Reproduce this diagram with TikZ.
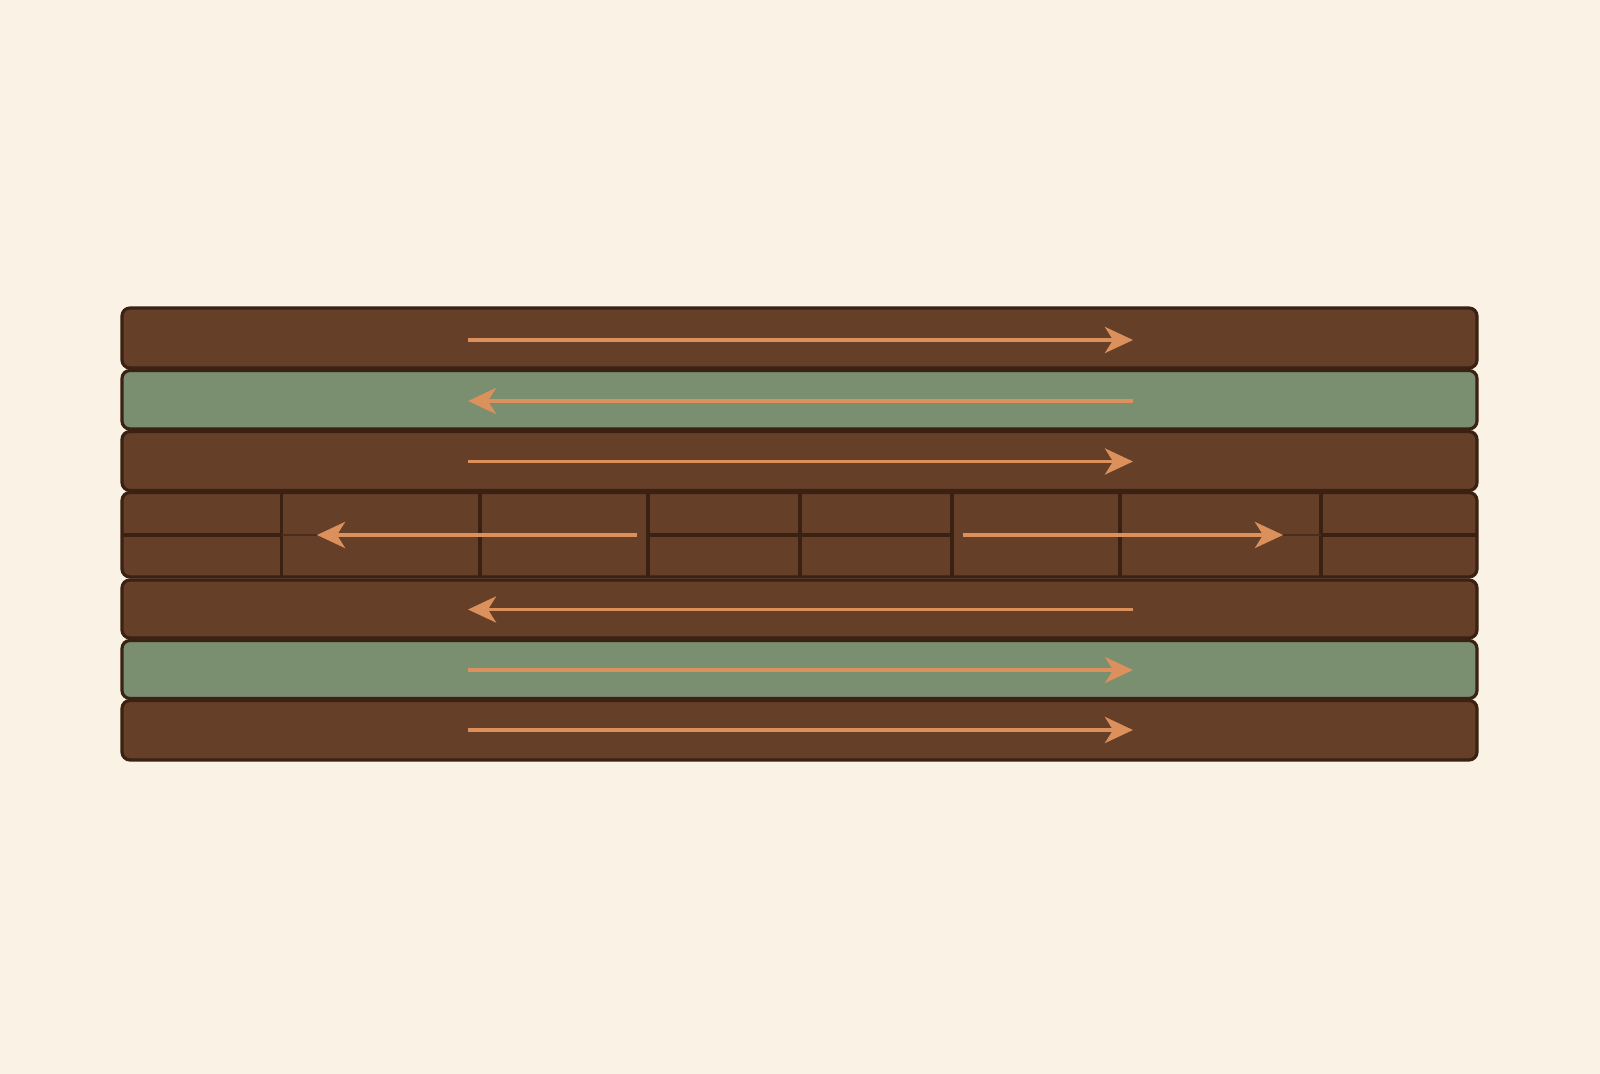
\documentclass[tikz,border=0pt]{standalone}
\usetikzlibrary{calc,arrows.meta}
\usepackage{xcolor}
\definecolor{pBrown}{HTML}{653F28}
\definecolor{pEdge}{HTML}{3A2112}
\definecolor{pGreen}{HTML}{7A8E70}
\definecolor{pArrow}{HTML}{DC905B}
\definecolor{pPaper}{HTML}{FAF2E4}

\begin{document}
\begin{tikzpicture}[x=0.1mm,y=-0.1mm]
    \pgfmathsetmacro{\xl}{122}	%left edge
	\pgfmathsetmacro{\xr}{1477}	%right edge
	\pgfmathsetmacro{\ms}{535}	%middle split

    \tikzset{
        board/.style={draw=pEdge, line width=0.9pt, rounded corners=0.8mm, fill=pBrown},
        greenboard/.style={board, fill=pGreen},
        joint/.style={draw=pEdge, line width=1pt},
        grain/.style={draw=pArrow, line width=1.1pt, -{Stealth[length=2.8mm,width=2.6mm,inset=0.8mm]}}
    };

    \fill[pPaper] (0,0) rectangle (1600,1074);
    \useasboundingbox (0,0) rectangle (1600,1074);

    % boards
    \draw[board] (\xl,308) rectangle (\xr,368);
    \draw[greenboard] (\xl,370.5) rectangle (\xr,429);
    \draw[board] (\xl,431.5) rectangle (\xr,490.5);
    \draw[board] (\xl,492.5) rectangle (\xr,577);
    \draw[board] (\xl,580) rectangle (\xr,638);
    \draw[greenboard] (\xl,640.5) rectangle (\xr,698.5);
    \draw[board] (\xl,700.5) rectangle (\xr,760);

    % blocks of the middle layer
    \foreach \x in {281.5,480,648,800,952,1120,1321}
        \draw[joint] (\x,492.5) -- (\x,577);
    \draw[joint] (\xl,\ms) -- (281.5,\ms);
    \draw[joint] (648,\ms) -- (952,\ms);
    \draw[joint] (1321,\ms) -- (\xr,\ms);
    \draw[pEdge!60!pBrown, line width=0.5pt] (281.5,\ms) -- (317,\ms);
    \draw[pEdge!60!pBrown, line width=0.5pt] (1283,\ms) -- (1321,\ms);

    % arrow ends
    \coordinate (L1) at (468,340);   \coordinate (R1) at (1133,340);
    \coordinate (L2) at (468,401);   \coordinate (R2) at (1133,401);
    \coordinate (L3) at (468,461.5); \coordinate (R3) at (1133,461.5);
    \coordinate (L4) at (317,\ms);   \coordinate (R4) at (637,\ms);
    \coordinate (L5) at (963,\ms);   \coordinate (R5) at (1283,\ms);
    \coordinate (L6) at (468,609.5); \coordinate (R6) at (1133,609.5);
    \coordinate (L7) at (468,670);   \coordinate (R7) at (1133,670);
    \coordinate (L8) at (468,730);   \coordinate (R8) at (1133,730);

    \draw[grain] (L1) -- (R1);
    \draw[grain] (R2) -- (L2);
    \draw[grain] (L3) -- (R3);
    \draw[grain] (R4) -- (L4);
    \draw[grain] (L5) -- (R5);
    \draw[grain] (R6) -- (L6);
    \draw[grain] (L7) -- (R7);
    \draw[grain] (L8) -- (R8);
\end{tikzpicture}
\end{document}
